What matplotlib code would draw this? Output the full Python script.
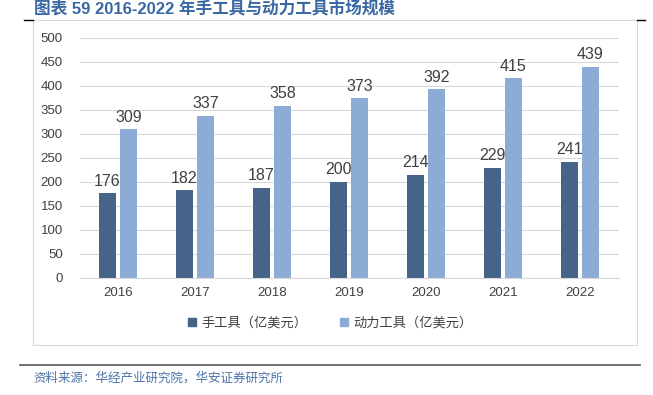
import numpy as np
import matplotlib.pyplot as plt
from matplotlib.patches import Rectangle
from matplotlib.lines import Line2D

plt.rcParams['font.family'] = ['Liberation Sans', 'Noto Sans CJK SC', 'DejaVu Sans']

years = ['2016', '2017', '2018', '2019', '2020', '2021', '2022']
hand_tools = [176, 182, 187, 200, 214, 229, 241]
power_tools = [309, 337, 358, 373, 392, 415, 439]
series_names = ['手工具（亿美元）', '动力工具（亿美元）']
title = '图表 59 2016-2022 年手工具与动力工具市场规模'
source = '资料来源：华经产业研究院，华安证券研究所'

c_hand = '#46648A'
c_power = '#8DACD5'
W, H = 653, 395

fig = plt.figure(figsize=(W / 100, H / 100), dpi=100)
ax = fig.add_axes([79.5 / W, 1 - 277.5 / H, (618.5 - 79.5) / W, 240 / H])

x = np.arange(len(years))
bw = 0.214
off = 0.136
b1 = ax.bar(x - off, hand_tools, bw, color=c_hand)
b2 = ax.bar(x + off, power_tools, bw, color=c_power)
for bars, vals in ((b1, hand_tools), (b2, power_tools)):
    for rect, v in zip(bars, vals):
        ax.text(rect.get_x() + rect.get_width() / 2, v + 9, str(v), ha='center', va='bottom',
                fontsize=11.5, color='#404040')

ax.set_xlim(-0.5, len(years) - 0.5)
ax.set_ylim(0, 500)
ax.set_yticks(range(0, 501, 50))
ax.set_xticks(x)
ax.set_xticklabels(years)
ax.tick_params(axis='both', length=0, labelsize=9.5, colors='#404040')
ax.tick_params(axis='y', pad=12)
ax.tick_params(axis='x', pad=7)
ax.grid(axis='y', color='#D9D9D9', linewidth=0.8)
ax.set_axisbelow(True)
for s in ['top', 'right', 'left']:
    ax.spines[s].set_visible(False)
ax.spines['bottom'].set_color('#D9D9D9')

# chart frame
fig.add_artist(Rectangle((33 / W, 1 - 345 / H), (637 - 33) / W, (345 - 20) / H,
                         transform=fig.transFigure, fill=False, edgecolor='#D9D9D9', linewidth=0.8))
fig.add_artist(Line2D([24 / W, 33 / W], [1 - 20 / H, 1 - 20 / H], color='black', linewidth=1))
fig.add_artist(Line2D([637 / W, 645 / W], [1 - 20 / H, 1 - 20 / H], color='black', linewidth=1))

# legend
handles = [Rectangle((0, 0), 1, 1, color=c_hand), Rectangle((0, 0), 1, 1, color=c_power)]
fig.legend(handles, series_names, loc='center', bbox_to_anchor=(330 / W, 1 - 323 / H), ncol=2,
           frameon=False, handlelength=0.6, handleheight=0.6, handletextpad=0.4,
           columnspacing=2.5, labelcolor='#404040',
           prop={'family': ['Noto Sans CJK SC'], 'size': 9.5})

fig.text(34 / W, 1 - 9 / H, title, fontsize=12, fontweight='bold', color='#3A68A3',
         va='center', ha='left', family=['Liberation Sans', 'Noto Sans CJK SC'])
fig.add_artist(Line2D([20 / W, 640 / W], [1 - 365 / H, 1 - 365 / H], color='#555555', linewidth=1.2))
fig.text(33 / W, 1 - 378 / H, source, fontsize=9, color='#4A72A8', va='center', ha='left',
         family=['Noto Sans CJK SC'])

fig.savefig('out.png', dpi=100)
